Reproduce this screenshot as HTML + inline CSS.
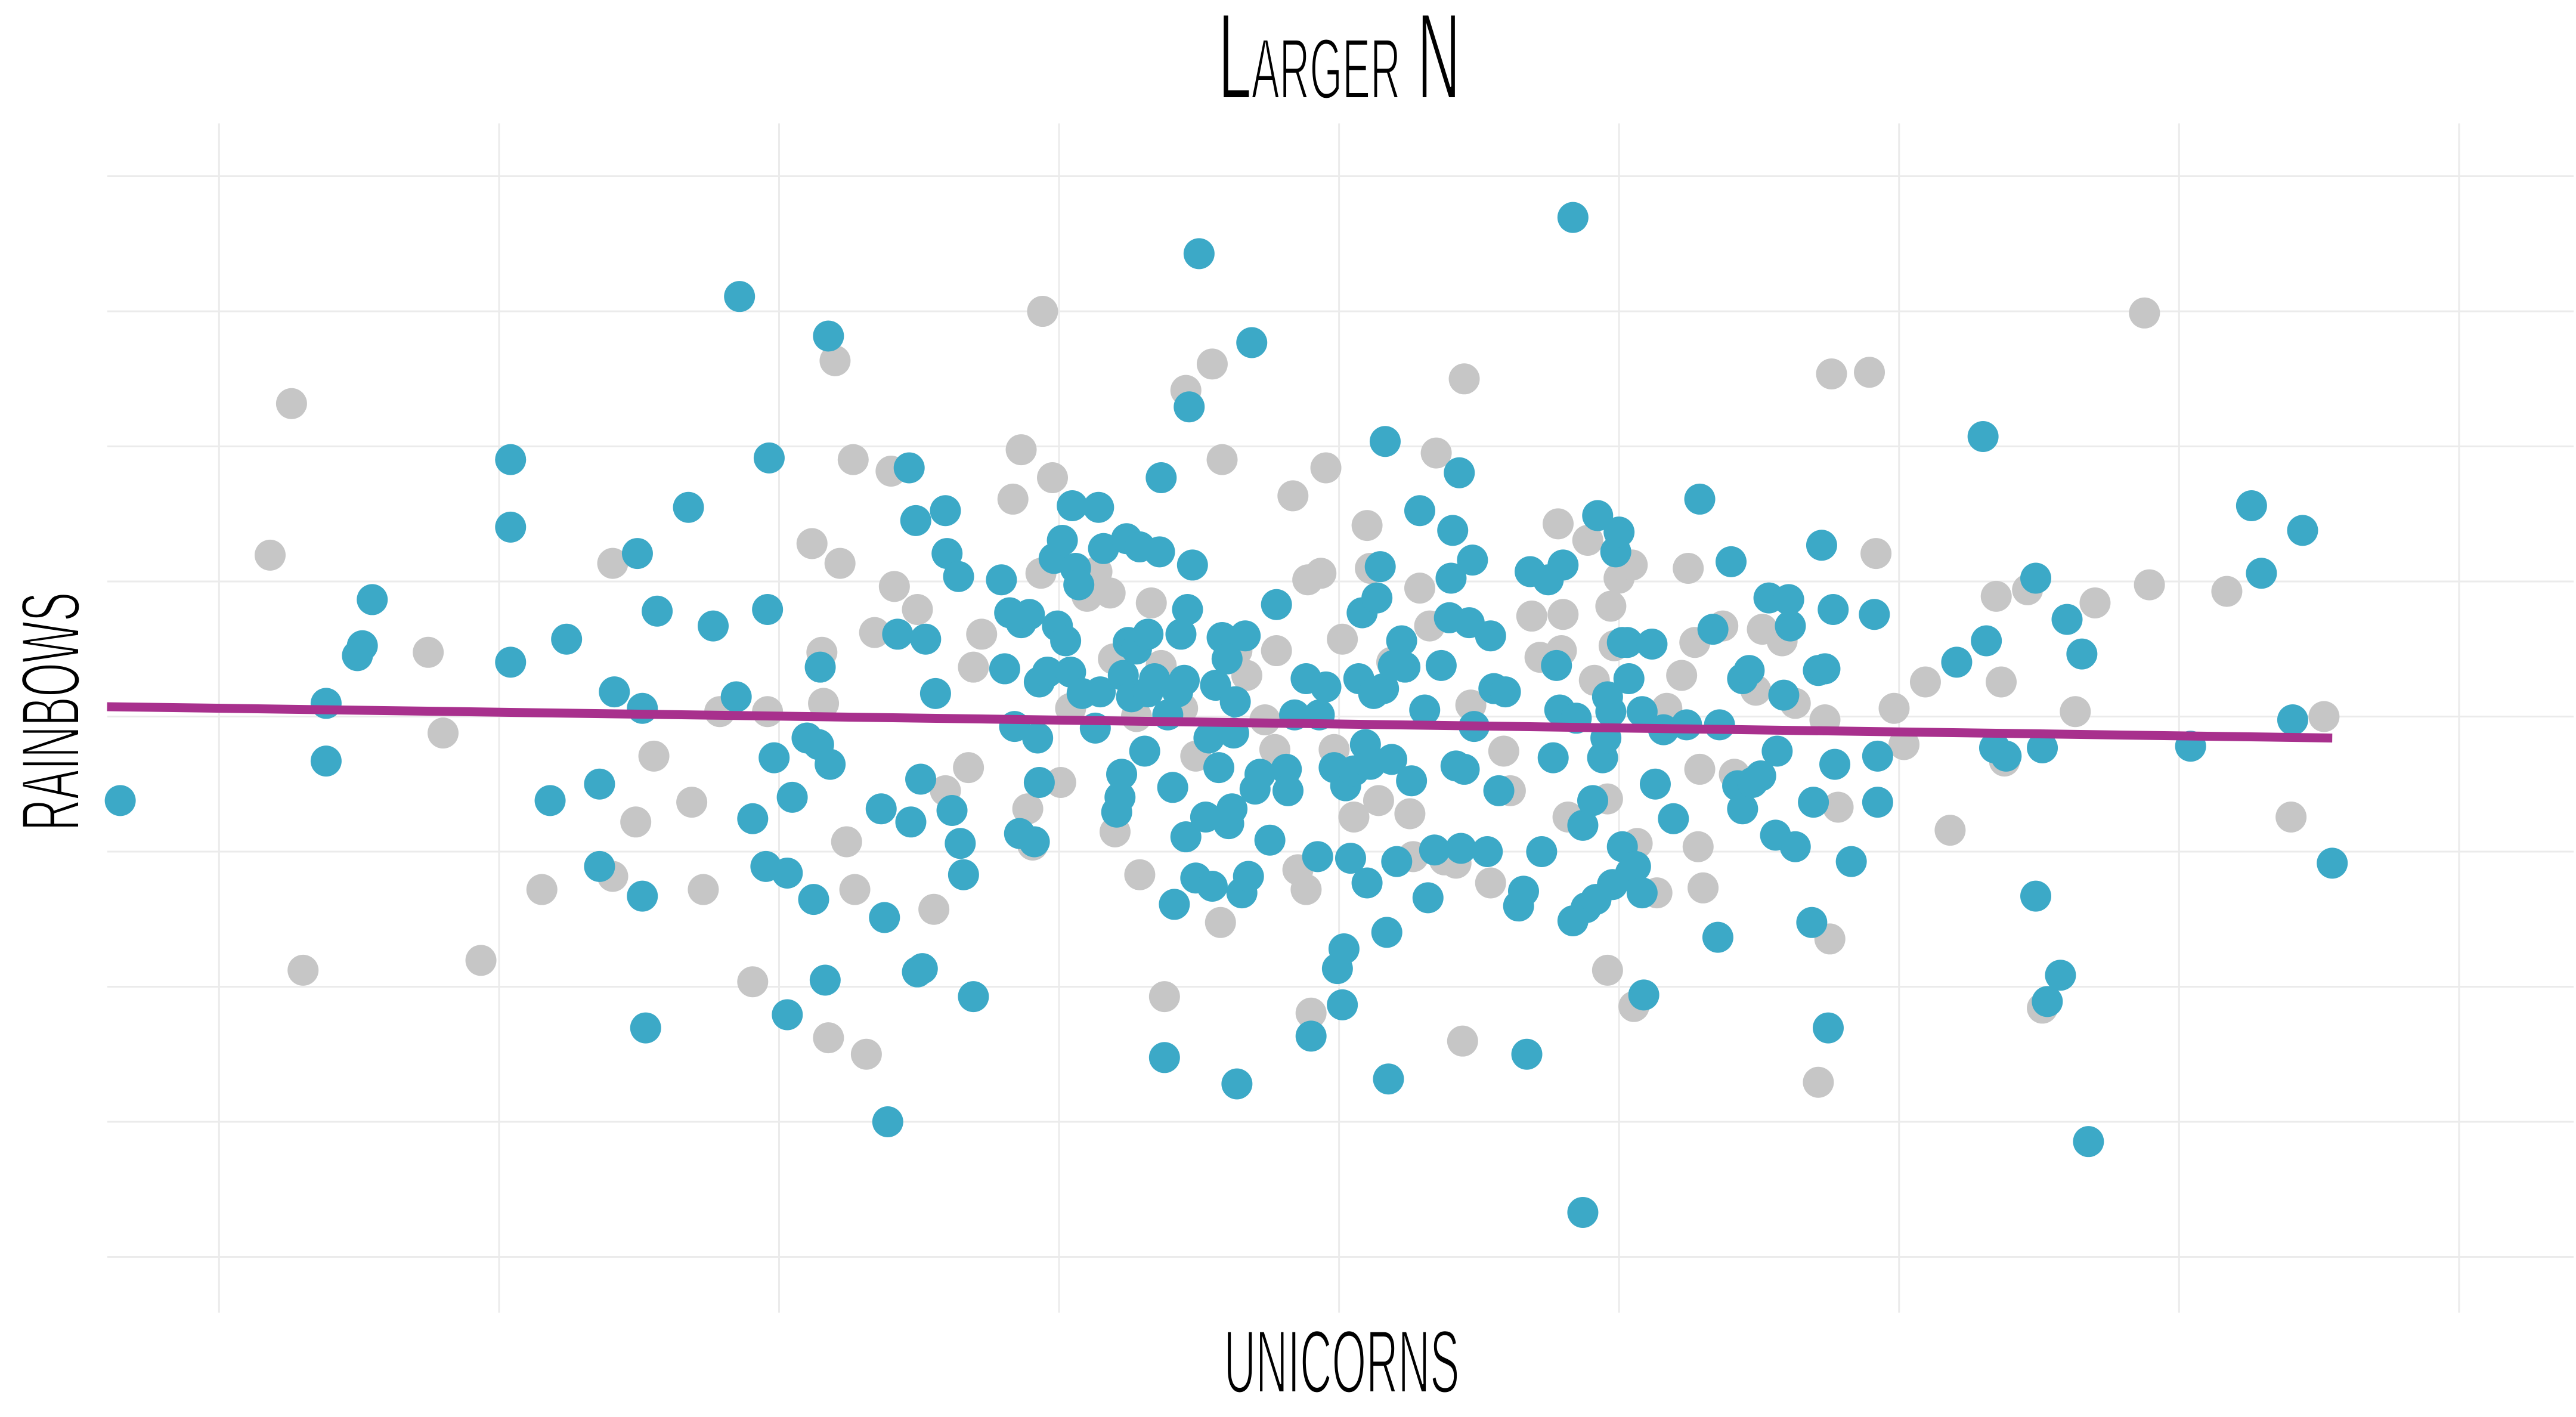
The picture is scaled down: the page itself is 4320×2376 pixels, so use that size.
<!DOCTYPE html>
<html><head><meta charset="utf-8"><title>Larger N</title>
<style>
html,body{margin:0;padding:0;background:#fff;}
svg{display:block;}
text{font-family:"Liberation Sans",sans-serif;fill:#000;stroke:#fff;stroke-width:4px;paint-order:normal;}
</style></head>
<body>
<svg id="chart" width="4320" height="2376" viewBox="0 0 4320 2376" xmlns="http://www.w3.org/2000/svg">
<rect x="0" y="0" width="4320" height="2376" fill="#fff"/>
<g id="grid"></g>
<g id="grayPts"></g>
<g id="bluePts"></g>
<g id="trend"></g>
<text x="2246" y="165" text-anchor="middle" font-size="205" textLength="406" lengthAdjust="spacingAndGlyphs" style="font-variant:small-caps">Larger N</text>
<text x="2250" y="2335" text-anchor="middle" font-size="150" textLength="395" lengthAdjust="spacingAndGlyphs">UNICORNS</text>
<text transform="translate(133,1193) rotate(-90)" x="0" y="0" text-anchor="middle" font-size="140" textLength="400" lengthAdjust="spacingAndGlyphs">RAINBOWS</text>
</svg>
<script>
const xTicks=[-680,-510,-340,-170,0,170,340,510,680];
const yTicks=[-328,-246,-164,-82,0,82,164,246,328];
const blueX=[-740,-615,-615,-596,-593,-587,-503,-503,-503,-469,-479,-449,-449,-440,-426,-423,-423,-421,-414,-395,-380,-366,-364,-356,-348,-347,-346,-343,-335,-335,-332,-323,-319,-316,-315,-312,-310,-309,-278,-276,-274,-268,-261,-260,-257,-256,-254,-253,-251,-245,-239,-238,-235,-231,-230,-228,-222,-205,-203,-200,-197,-193,-188,-194,-185,-183,-182,-182,-177,-173,-171,-168,-166,-163,-162,-160,-158,-156,-148,-146,-145,-143,-135,-133,-132,-131,-129,-128,-126,-123,-121,-118,-116,-116,-112,-109,-108,-106,-104,-101,-100,-98,-96,-94,-93,-92,-91,-89,-87,-85,-81,-79,-77,-75,-73,-71,-68,-67,-65,-64,-63,-62,-59,-57,-55,-53,-51,-48,-42,-38,-32,-31,-27,-20,-17,-13,-12,-8,-3,-1,2,3,4,7,9,12,14,16,17,19,21,23,25,27,28,29,30,32,33,35,38,40,44,49,52,54,58,62,67,68,69,71,73,74,76,79,81,82,90,92,94,97,101,109,112,114,116,123,127,130,132,134,136,142,142,144,148,148,150,154,156,157,160,162,163,165,166,168,170,172,172,175,176,177,180,184,184,185,190,192,197,203,211,219,227,230,231,238,242,245,245,249,251,256,261,265,266,270,273,274,277,287,288,291,293,295,297,300,301,311,325,327,327,375,391,393,398,405,423,423,427,430,438,442,451,455,517,554,560,579,585,603];
const blueY=[-51,-27,8,37,43,71,156,115,33,47,-51,-41,-91,15,99,5,-109,-189,64,127,55,12,255,-62,-91,65,157,-25,-95,-181,-49,-13,-111,-17,30,-160,231,-29,-56,-122,-246,50,151,-64,119,-155,-38,-153,47,14,125,99,-57,85,-77,-96,-170,83,29,63,-6,57,62,-71,-76,-13,-40,21,27,96,55,107,46,27,128,90,80,14,-7,127,15,102,-58,-49,-35,25,108,45,12,41,103,-21,15,50,23,100,145,-207,1,-43,-114,15,50,22,-73,65,188,92,-98,281,-61,-13,-103,19,-31,48,35,-65,-56,-10,9,-223,-107,49,-97,227,-44,-35,-75,68,-32,-45,1,23,-194,-85,1,18,-31,-153,-175,-141,-42,-86,-33,23,63,-17,-101,-29,14,72,91,17,167,-131,-220,-26,31,-88,46,30,-39,125,4,-110,-81,31,60,84,113,-30,148,-80,-32,57,95,-6,-82,49,17,-45,15,-115,-106,-205,88,-82,83,-25,31,4,92,303,-124,-1,-301,-66,-116,-51,-111,122,-25,-13,12,3,-102,100,112,45,-79,45,23,-95,-91,3,-107,-169,44,-41,-8,-62,-5,132,53,-134,-5,94,-42,23,-56,28,-40,-36,72,-72,-21,13,71,55,-79,-125,-52,28,104,29,-189,65,-29,-88,62,-24,-52,33,170,46,-19,-24,-109,84,-19,-173,-157,59,38,-258,-18,128,87,-2,113,-89];
const grayX=[-649,-636,-629,-553,-544,-521,-484,-441,-441,-427,-416,-393,-386,-376,-356,-347,-320,-314,-313,-310,-306,-303,-299,-295,-294,-287,-282,-272,-270,-256,-246,-239,-225,-222,-217,-198,-193,-189,-186,-181,-180,-174,-169,-163,-153,-147,-139,-137,-136,-123,-121,-114,-108,-106,-95,-93,-87,-77,-72,-71,-62,-56,-45,-39,-38,-28,-25,-20,-19,-17,-11,-8,-3,2,9,17,19,24,32,38,43,45,49,55,59,64,71,75,76,80,92,100,104,117,122,133,135,136,139,151,155,163,163,165,167,170,178,179,181,193,199,208,212,216,218,219,221,233,240,253,257,269,277,291,295,299,303,298,322,326,337,343,356,371,399,402,404,418,427,447,459,489,492,539,578,598];
const grayY=[98,190,-154,39,-10,-148,-105,93,-97,-64,-24,-52,-105,3,-161,3,105,39,8,-195,216,93,-76,156,-105,-205,51,149,79,65,-117,-45,-31,30,50,132,162,-56,-78,87,246,145,-40,5,73,88,75,35,-70,0,-96,69,31,-170,5,198,-24,214,-125,156,40,25,-2,-20,40,134,-93,-105,83,-180,87,151,-20,47,-61,116,90,-51,33,31,-59,-85,78,55,160,-87,-89,-197,205,7,-101,-21,-45,61,36,117,40,62,-61,107,22,-154,-50,67,43,84,92,-176,-77,-107,5,25,90,45,-79,-32,-104,55,-35,16,53,46,8,-222,-2,208,-55,-135,209,99,5,-17,21,-69,73,21,-27,77,-177,3,69,245,80,76,-61,0];
const trendX=[-748,603];
const trendY=[6,-13];

const K=4320/1564;
function xScale(v){return (813+v)*K;}
function yScale(v){return (435-v)*K;}
const NS="http://www.w3.org/2000/svg";
const grid=document.getElementById('grid');
xTicks.forEach(t=>{
  const l=document.createElementNS(NS,'line');
  l.setAttribute('x1',xScale(t));l.setAttribute('x2',xScale(t));
  l.setAttribute('y1',207);l.setAttribute('y2',2201);
  l.setAttribute('stroke','#EBEBEB');l.setAttribute('stroke-width','3');
  
  
  grid.appendChild(l);
});
yTicks.forEach(t=>{
  const l=document.createElementNS(NS,'line');
  l.setAttribute('x1',180);l.setAttribute('x2',4316);
  l.setAttribute('y1',yScale(t));l.setAttribute('y2',yScale(t));
  l.setAttribute('stroke','#EBEBEB');l.setAttribute('stroke-width','3');
  
  
  grid.appendChild(l);
});
function drawPts(gid,xs,ys,color,name){
  const g=document.getElementById(gid);
  for(let i=0;i<xs.length;i++){
    const c=document.createElementNS(NS,'circle');
    c.setAttribute('cx',xScale(xs[i]));c.setAttribute('cy',yScale(ys[i]));
    c.setAttribute('r',26);c.setAttribute('fill',color);
    
    
    g.appendChild(c);
  }
}
drawPts('grayPts',grayX,grayY,'#C6C6C6','gray-point');
drawPts('bluePts',blueX,blueY,'#3CA9C7','blue-point');
const tl=document.createElementNS(NS,'line');
tl.setAttribute('x1',xScale(trendX[0]));tl.setAttribute('y1',yScale(trendY[0]));
tl.setAttribute('x2',xScale(trendX[1]));tl.setAttribute('y2',yScale(trendY[1]));
tl.setAttribute('stroke','#A8308D');tl.setAttribute('stroke-width','15');


document.getElementById('trend').appendChild(tl);
</script>
</body></html>
